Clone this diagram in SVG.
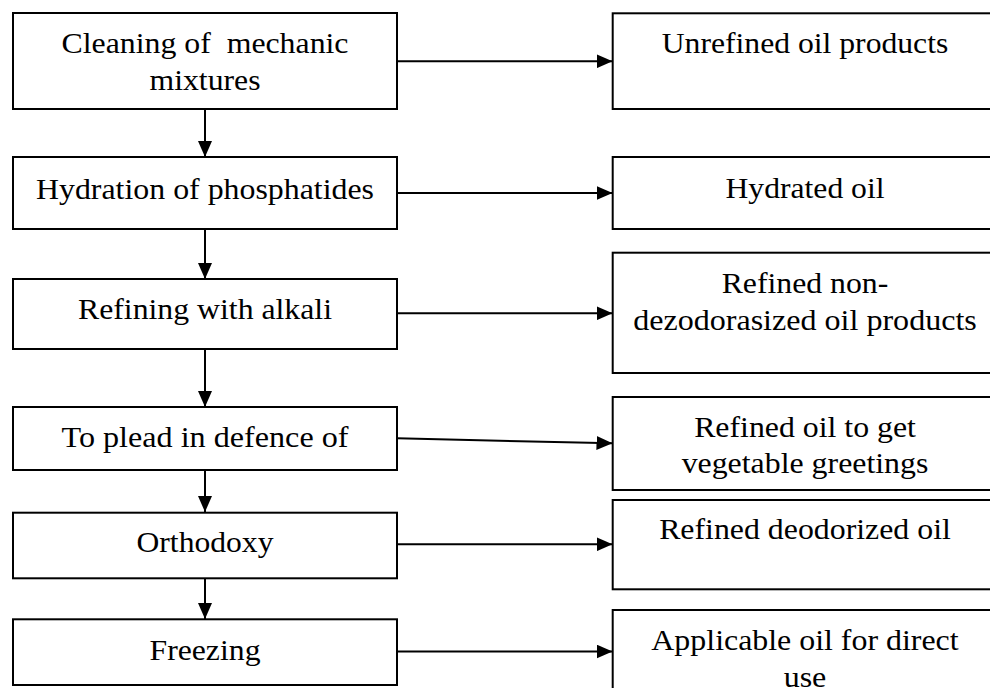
<svg xmlns="http://www.w3.org/2000/svg" width="990" height="688" viewBox="0 0 990 688">
<style>
.box{fill:#fff;stroke:#000;stroke-width:2}
.t{font-family:"Liberation Serif","Times New Roman",serif;font-size:29px;fill:#000;text-anchor:middle;white-space:pre}
.c{stroke:#000;stroke-width:2;fill:none;marker-end:url(#ah)}
</style>
<defs>
<marker id="ah" viewBox="0 0 16 14" refX="16" refY="7" markerWidth="16" markerHeight="14" markerUnits="userSpaceOnUse" orient="auto">
<path d="M0,0 L16,7 L0,14 Z" fill="#000"/>
</marker>
</defs>
<rect width="990" height="688" fill="#fff"/>
<g id="connectors">
<line class="c" x1="205" y1="109" x2="205" y2="157"/>
<line class="c" x1="205" y1="229" x2="205" y2="279"/>
<line class="c" x1="205" y1="349" x2="205" y2="407"/>
<line class="c" x1="205" y1="470" x2="205" y2="512"/>
<line class="c" x1="205" y1="578" x2="205" y2="619"/>
<line class="c" x1="397" y1="61.3" x2="612.5" y2="61.3"/>
<line class="c" x1="397" y1="193" x2="612.5" y2="193"/>
<line class="c" x1="397" y1="313.3" x2="612.5" y2="313.3"/>
<line class="c" x1="397" y1="438.3" x2="612.5" y2="443.3"/>
<line class="c" x1="397" y1="544.3" x2="612.5" y2="544.3"/>
<line class="c" x1="397" y1="651.5" x2="612.5" y2="651.5"/>
</g>
<g id="n1"><rect class="box" x="13" y="13" width="384" height="96"/><text class="t" x="205" y="53.3" xml:space="preserve" textLength="287" lengthAdjust="spacingAndGlyphs">Cleaning of  mechanic</text><text class="t" x="205" y="90" textLength="111" lengthAdjust="spacingAndGlyphs">mixtures</text></g>
<g id="n2"><rect class="box" x="13" y="157" width="384" height="72"/><text class="t" x="205" y="199" textLength="338" lengthAdjust="spacingAndGlyphs">Hydration of phosphatides</text></g>
<g id="n3"><rect class="box" x="13" y="279" width="384" height="70"/><text class="t" x="205" y="319.3" textLength="254" lengthAdjust="spacingAndGlyphs">Refining with alkali</text></g>
<g id="n4"><rect class="box" x="13" y="407" width="384" height="63"/><text class="t" x="205" y="446.7" textLength="287" lengthAdjust="spacingAndGlyphs">To plead in defence of</text></g>
<g id="n5"><rect class="box" x="13" y="512.7" width="384" height="65.6"/><text class="t" x="205" y="551.7" textLength="137" lengthAdjust="spacingAndGlyphs">Orthodoxy</text></g>
<g id="n6"><rect class="box" x="13" y="619.3" width="384" height="65.7"/><text class="t" x="205" y="660" textLength="111" lengthAdjust="spacingAndGlyphs">Freezing</text></g>
<g id="r1"><rect class="box" x="612.7" y="13.3" width="386" height="95.7"/><text class="t" x="805" y="53.3" textLength="286.6" lengthAdjust="spacingAndGlyphs">Unrefined oil products</text></g>
<g id="r2"><rect class="box" x="612.7" y="157" width="386" height="72"/><text class="t" x="805" y="198.3" textLength="159" lengthAdjust="spacingAndGlyphs">Hydrated oil</text></g>
<g id="r3"><rect class="box" x="612.7" y="252.7" width="386" height="120.3"/><text class="t" x="805" y="293.3" textLength="166.7" lengthAdjust="spacingAndGlyphs">Refined non-</text><text class="t" x="805" y="330" textLength="343.7" lengthAdjust="spacingAndGlyphs">dezodorasized oil products</text></g>
<g id="r4"><rect class="box" x="612.7" y="397" width="386" height="93"/><text class="t" x="805" y="436.7" textLength="221.7" lengthAdjust="spacingAndGlyphs">Refined oil to get</text><text class="t" x="805" y="473.3" textLength="246.7" lengthAdjust="spacingAndGlyphs">vegetable greetings</text></g>
<g id="r5"><rect class="box" x="612.7" y="500" width="386" height="89.3"/><text class="t" x="805" y="539.3" textLength="291.7" lengthAdjust="spacingAndGlyphs">Refined deodorized oil</text></g>
<g id="r6"><rect class="box" x="612.7" y="610" width="386" height="100"/><text class="t" x="805" y="650" textLength="307.3" lengthAdjust="spacingAndGlyphs">Applicable oil for direct</text><text class="t" x="805" y="686.7" textLength="42.7" lengthAdjust="spacingAndGlyphs">use</text></g>
</svg>
